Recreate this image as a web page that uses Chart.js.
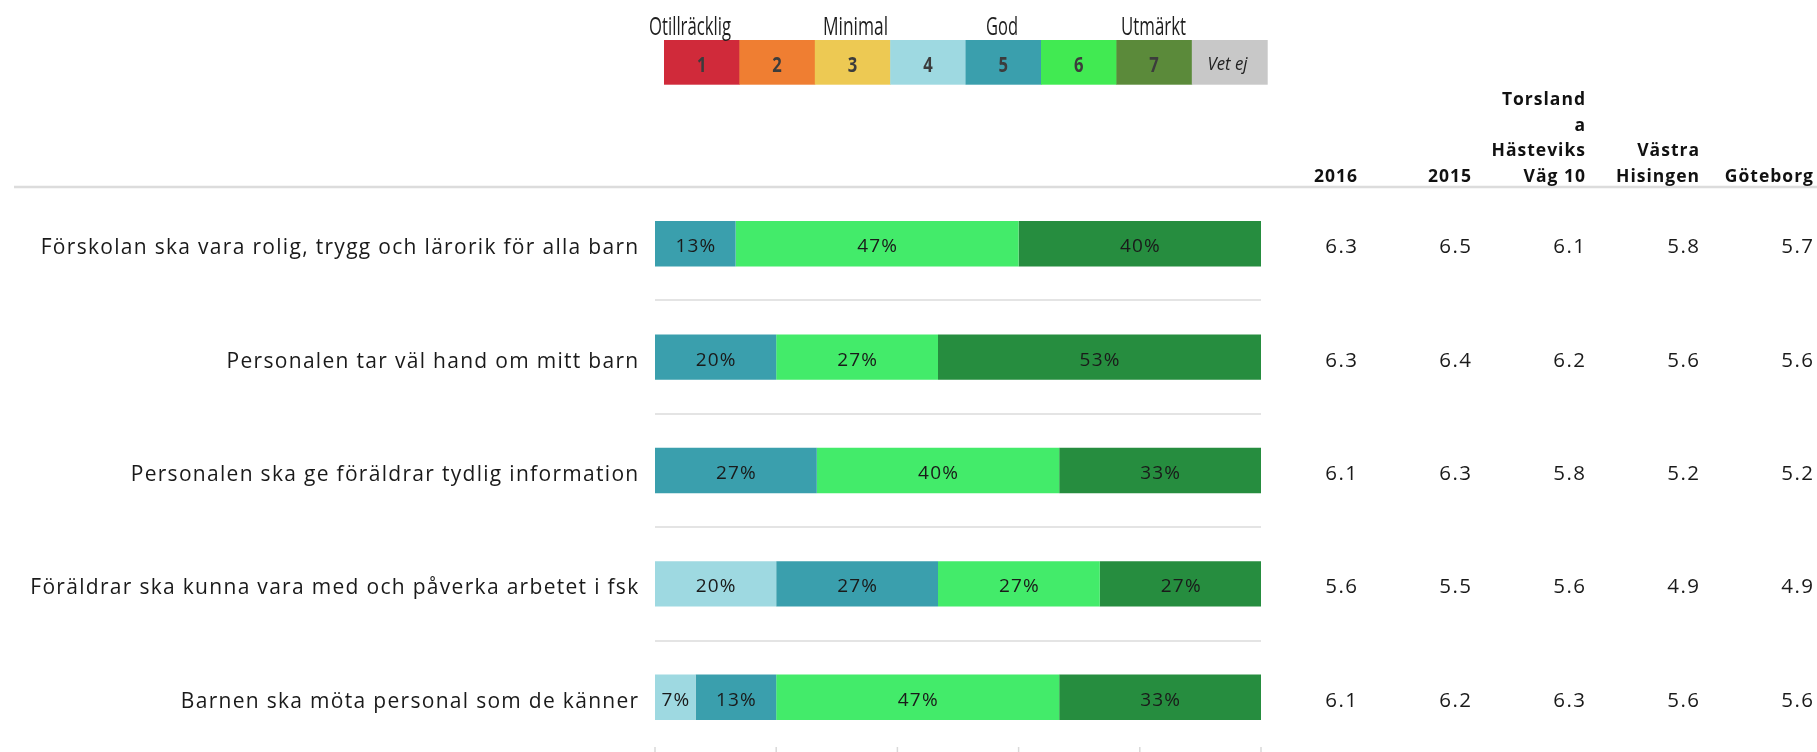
<!DOCTYPE html>
<html>
<head>
<meta charset="utf-8">
<script src="https://cdn.jsdelivr.net/npm/chart.js@4.4.1/dist/chart.umd.min.js"></script>
<style>
  html, body { margin: 0; padding: 0; background: #ffffff; overflow: hidden; }
  #wrap { position: relative; width: 1817px; height: 760px; }
</style>
</head>
<body>
<div id="wrap"><canvas id="c" width="1817" height="760"></canvas></div>
<script>
// ---------- DATA ----------
const categories = [
  "Förskolan ska vara rolig, trygg och lärorik för alla barn",
  "Personalen tar väl hand om mitt barn",
  "Personalen ska ge föräldrar tydlig information",
  "Föräldrar ska kunna vara med och påverka arbetet i fsk",
  "Barnen ska möta personal som de känner"
];
const scaleNames = ["1", "2", "3", "4", "5", "6", "7", "Vet ej"];
const scaleTitles = ["Otillräcklig", "Minimal", "God", "Utmärkt"];

const pct1 = [0, 0, 0, 0, 0];
const pct2 = [0, 0, 0, 0, 0];
const pct3 = [0, 0, 0, 0, 0];
const pct4 = [0, 0, 0, 20, 6.7];
const pct5 = [13.3, 20, 26.7, 26.7, 13.3];
const pct6 = [46.7, 26.7, 40, 26.7, 46.7];
const pct7 = [40, 53.3, 33.3, 26.7, 33.3];
const pctVetEj = [0, 0, 0, 0, 0];

const tableHeaders = [
  ["2016"],
  ["2015"],
  ["Torsland", "a", "Hästeviks", "Väg 10"],
  ["Västra", "Hisingen"],
  ["Göteborg"]
];
const col2016 = [6.3, 6.3, 6.1, 5.6, 6.1];
const col2015 = [6.5, 6.4, 6.3, 5.5, 6.2];
const colTorsland = [6.1, 6.2, 5.8, 5.6, 6.3];
const colVastra = [5.8, 5.6, 5.2, 4.9, 5.6];
const colGoteborg = [5.7, 5.6, 5.2, 4.9, 5.6];
const xTicks = [0, 20, 40, 60, 80, 100];

// ---------- STYLE ----------
const barColors = ["#D02A3A", "#EF7E32", "#EDC953", "#9ED9E1", "#3A9FAD", "#43EB6A", "#268D3F", "#C8C8C8"];
const legendColors = ["#D02A3A", "#EF7E32", "#EDC953", "#9ED9E1", "#3A9FAD", "#41EA52", "#5B8A3A", "#C8C8C8"];
const seriesValues = [pct1, pct2, pct3, pct4, pct5, pct6, pct7, pctVetEj];
const tableCols = [col2016, col2015, colTorsland, colVastra, colGoteborg];
const colRight = [1357, 1471, 1585, 1699, 1813];
const FONT = '"Open Sans", "DejaVu Sans", sans-serif';

function fitText(ctx, text, cx, baseline, targetW, font, color) {
  ctx.save();
  ctx.font = font;
  ctx.fillStyle = color;
  const w = ctx.measureText(text).width;
  ctx.translate(cx, baseline);
  ctx.scale(targetW / w, 1);
  ctx.textAlign = 'center';
  ctx.textBaseline = 'alphabetic';
  ctx.fillText(text, 0, 0);
  ctx.restore();
}

const decorPlugin = {
  id: 'decor',
  afterDraw(chart) {
    const ctx = chart.ctx;
    const xs = chart.scales.x, ys = chart.scales.y;

    // Legend strip
    const lx0 = 664, cw = 75.4, ly0 = 40, lh = 44.7;
    ctx.save();
    for (let i = 0; i < scaleNames.length; i++) {
      ctx.fillStyle = legendColors[i];
      ctx.fillRect(lx0 + i * cw, ly0, cw + 0.5, lh);
    }
    for (let i = 0; i < 7; i++) {
      fitText(ctx, scaleNames[i], lx0 + (i + 0.5) * cw, 72, 9.5, 'bold 21px ' + FONT, '#3c3c3c');
    }
    fitText(ctx, scaleNames[7], lx0 + 7.5 * cw - 2, 70, 40, 'italic 18px ' + FONT, '#222222');
    const titleCx = [690, 855.5, 1002, 1153.5];
    const titleW = [82, 65, 32, 65];
    for (let i = 0; i < scaleTitles.length; i++) {
      fitText(ctx, scaleTitles[i], titleCx[i], 35, titleW[i], '25px ' + FONT, '#1e1e1e');
    }
    ctx.restore();

    // Header rule
    ctx.save();
    ctx.strokeStyle = '#dcdcdc';
    ctx.lineWidth = 2.5;
    ctx.beginPath();
    ctx.moveTo(14, chart.chartArea.top);
    ctx.lineTo(1817, chart.chartArea.top);
    ctx.stroke();
    ctx.restore();

    // Table headers
    ctx.save();
    ctx.font = 'bold 17.5px ' + FONT;
    ctx.letterSpacing = '1px';
    ctx.fillStyle = '#111111';
    ctx.textAlign = 'right';
    ctx.textBaseline = 'alphabetic';
    tableHeaders.forEach((lines, ci) => {
      const n = lines.length;
      lines.forEach((t, li) => {
        const baseline = 182 - (n - 1 - li) * 25.6;
        ctx.fillText(t, colRight[ci] + 1, baseline);
      });
    });
    ctx.restore();

    // Category labels and values
    ctx.save();
    ctx.textBaseline = 'alphabetic';
    ctx.fillStyle = '#1a1a1a';
    categories.forEach((cat, i) => {
      const cy = ys.getPixelForValue(i);
      ctx.font = '21px ' + FONT;
      ctx.letterSpacing = '1.3px';
      ctx.textAlign = 'right';
      ctx.fillText(cat, 639.5, cy + 10.5);
      ctx.font = '20.5px ' + FONT;
      ctx.letterSpacing = '1.5px';
      tableCols.forEach((col, ci) => {
        ctx.fillText(col[i].toFixed(1), colRight[ci] + 1.5, cy + 9.5);
      });
    });
    ctx.restore();

    // Bar segment labels
    ctx.save();
    ctx.font = '19px ' + FONT;
    ctx.letterSpacing = '1.2px';
    ctx.fillStyle = '#1a1a1a';
    ctx.textAlign = 'center';
    ctx.textBaseline = 'alphabetic';
    chart.data.datasets.forEach((ds, di) => {
      const meta = chart.getDatasetMeta(di);
      meta.data.forEach((bar, i) => {
        const v = ds.data[i];
        if (!v) return;
        const cx = (bar.x + bar.base) / 2;
        ctx.fillText(Math.round(v) + '%', cx + 0.6, bar.y + 8.5);
      });
    });
    ctx.restore();

    // bottom tick marks
    ctx.save();
    ctx.strokeStyle = '#d9d9d9';
    ctx.lineWidth = 1.5;
    xTicks.forEach(v => {
      const x = xs.getPixelForValue(v);
      ctx.beginPath();
      ctx.moveTo(x, 747);
      ctx.lineTo(x, 753);
      ctx.stroke();
    });
    ctx.restore();
  }
};

new Chart(document.getElementById('c'), {
  type: 'bar',
  data: {
    labels: categories,
    datasets: seriesValues.map((vals, i) => ({
      label: scaleNames[i],
      data: vals,
      backgroundColor: barColors[i],
      borderWidth: 0,
      barPercentage: 0.4,
      categoryPercentage: 1.0
    }))
  },
  options: {
    indexAxis: 'y',
    responsive: false,
    animation: false,
    devicePixelRatio: 1,
    layout: { padding: { left: 655, right: 556, top: 187, bottom: 6 } },
    plugins: { legend: { display: false }, tooltip: { enabled: false } },
    scales: {
      x: { stacked: true, min: 0, max: 100, display: false },
      y: {
        stacked: true,
        display: true,
        ticks: { display: false },
        border: { display: false },
        grid: { offset: true, color: '#e4e4e4', lineWidth: 2, drawTicks: false },
        afterFit: (s) => { s.width = 0; }
      }
    }
  },
  plugins: [decorPlugin]
});
</script>
</body>
</html>
